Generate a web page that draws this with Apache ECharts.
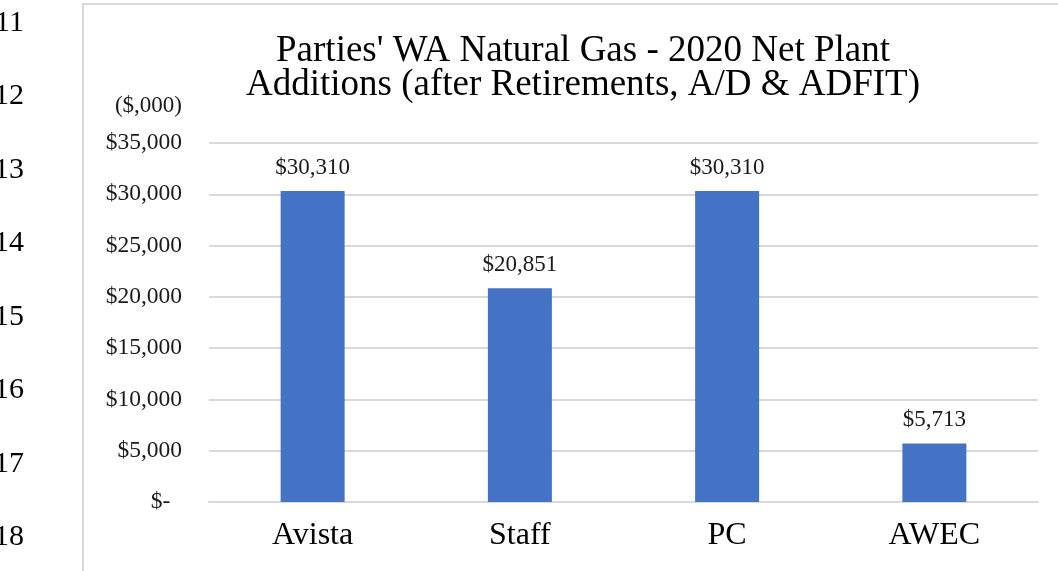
<!DOCTYPE html>
<html>
<head>
<meta charset="utf-8">
<script src="https://cdn.jsdelivr.net/npm/echarts@6/dist/echarts.min.js"></script>
<style>
    html, body { margin: 0; padding: 0; background: #fff; }
    #chart { width: 1058px; height: 571px; }
</style>
</head>
<body>
<div id="chart"></div>
<script>
let categories = ["Avista", "Staff", "PC", "AWEC"];
let values = [30310, 20851, 30310, 5713];
let lineNumbers = ["11", "12", "13", "14", "15", "16", "17", "18"];
let titleText = "Parties' WA Natural Gas - 2020 Net Plant\nAdditions (after Retirements, A/D & ADFIT)";
let unitText = "($,000)";

function formatMoney(value) {
    if (value === 0) {
        return "$-  ";
    }
    return "$" + value.toLocaleString("en-US");
}

let font = "Liberation Serif";

let chart = echarts.init(document.getElementById("chart"));
let option = {
    animation: false,
    textStyle: {
        fontFamily: font
    },
    title: {
        text: titleText,
        left: 578,
        top: 29,
        textAlign: "center",
        textStyle: {
            fontFamily: font,
            fontSize: 37,
            fontWeight: "normal",
            lineHeight: 34,
            color: "#000"
        }
    },
    graphic: [
        {
            type: "rect",
            shape: { x: 83, y: 4, width: 1200, height: 800 },
            style: { fill: "none", stroke: "#d9d9d9", lineWidth: 2 },
            silent: true
        }
    ].concat(lineNumbers.map(function (num, i) {
        return {
            type: "text",
            x: 24,
            y: 23 + 73.5 * i,
            style: {
                text: num,
                font: "30px " + font,
                fill: "#000",
                textAlign: "right",
                textVerticalAlign: "middle"
            },
            silent: true
        };
    })),
    grid: {
        left: 209,
        right: 20,
        top: 143,
        bottom: 69
    },
    xAxis: {
        type: "category",
        data: categories,
        axisLine: {
            lineStyle: { color: "#d9d9d9", width: 2 }
        },
        axisTick: { show: false },
        axisLabel: {
            fontFamily: font,
            fontSize: 32,
            color: "#000",
            margin: 18
        }
    },
    yAxis: {
        type: "value",
        min: 0,
        max: 35000,
        interval: 5000,
        name: unitText,
        nameLocation: "end",
        nameGap: 37,
        nameTextStyle: {
            fontFamily: font,
            fontSize: 23,
            color: "#1a1a1a",
            align: "right",
            verticalAlign: "middle",
            padding: [0, 27, 0, 0]
        },
        axisLine: { show: false },
        axisTick: { show: false },
        splitLine: {
            lineStyle: { color: "#d9d9d9", width: 2 }
        },
        axisLabel: {
            fontFamily: font,
            fontSize: 23.5,
            color: "#1a1a1a",
            margin: 27,
            formatter: formatMoney
        }
    },
    series: [
        {
            type: "bar",
            data: values,
            barWidth: 64,
            itemStyle: { color: "#4472c4" },
            label: {
                show: true,
                position: "top",
                distance: 12,
                fontFamily: font,
                fontSize: 23,
                color: "#1a1a1a",
                formatter: function (params) {
                    return formatMoney(params.value);
                }
            }
        }
    ]
};
chart.setOption(option);
</script>
</body>
</html>
